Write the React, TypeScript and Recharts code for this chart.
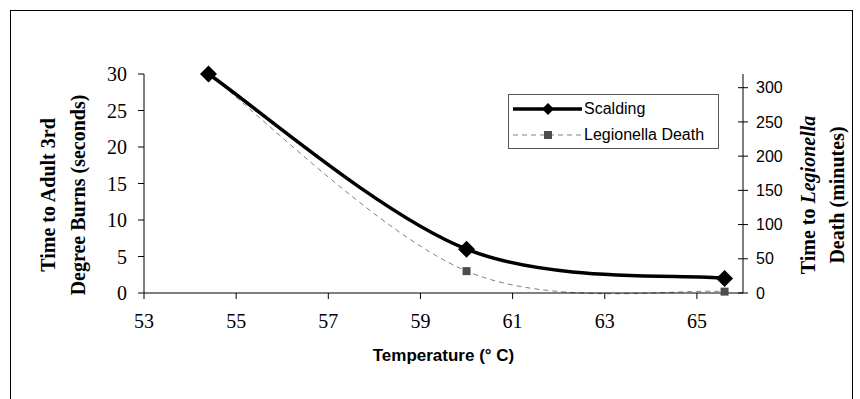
import React from "react";
import { LineChart, Line, XAxis, YAxis, Legend } from "recharts";

const temperatures = [54.4, 60, 65.6];
const scaldingSeconds = [30, 6, 2];
const legionellaMinutes = [320, 32, 2];
const xTicks = [53, 55, 57, 59, 61, 63, 65];
const leftTicks = [0, 5, 10, 15, 20, 25, 30];
const rightTicks = [0, 50, 100, 150, 200, 250, 300];
const seriesNames = ["Scalding", "Legionella Death"];

const data = temperatures.map((t, i) => ({
  temp: t,
  scalding: scaldingSeconds[i],
  legionella: legionellaMinutes[i],
}));

const SERIF = "'Liberation Serif', 'Times New Roman', serif";
const SANS = "'Liberation Sans', Arial, sans-serif";

// Excel-like smoothed line (cubic Bezier, tangent = (next - prev) / 6)
function excelCurve(context: any) {
  let pts: number[][] = [];
  return {
    areaStart() {},
    areaEnd() {},
    lineStart() {
      pts = [];
    },
    point(x: number, y: number) {
      pts.push([+x, +y]);
    },
    lineEnd() {
      const n = pts.length;
      if (n === 0) return;
      context.moveTo(pts[0][0], pts[0][1]);
      for (let i = 0; i < n - 1; i++) {
        const p0 = pts[Math.max(0, i - 1)];
        const p1 = pts[i];
        const p2 = pts[i + 1];
        const p3 = pts[Math.min(n - 1, i + 2)];
        const c1x = p1[0] + (p2[0] - p0[0]) / 6;
        const c1y = p1[1] + (p2[1] - p0[1]) / 6;
        const c2x = p2[0] - (p3[0] - p1[0]) / 6;
        const c2y = p2[1] - (p3[1] - p1[1]) / 6;
        context.bezierCurveTo(c1x, c1y, c2x, c2y, p2[0], p2[1]);
      }
    },
  };
}

const Diamond = (p: any) => {
  const { cx, cy, index } = p;
  if (cx == null || cy == null) return <g key={`dd-${index}`} />;
  const r = 8.5;
  return (
    <path
      key={`d-${index}`}
      d={`M${cx},${cy - r}L${cx + r},${cy}L${cx},${cy + r}L${cx - r},${cy}Z`}
      fill="#000"
    />
  );
};

const Square = (p: any) => {
  const { cx, cy, index } = p;
  if (cx == null || cy == null) return <g key={`ss-${index}`} />;
  const s = 4;
  return <rect key={`s-${index}`} x={cx - s} y={cy - s} width={2 * s} height={2 * s} fill="#4d4d4d" />;
};

const serifStyle = { fontFamily: SERIF, fontSize: 20 };
const sansStyle = { fontFamily: SANS, fontSize: 16 };

const XTick = (p: any) => {
  const { x, y, payload } = p;
  return (
    <text x={x} y={y} dy="0.71em" textAnchor="middle" style={serifStyle} fill="#000">
      {payload.value}
    </text>
  );
};

const LeftTick = (p: any) => {
  const { x, y, payload } = p;
  return (
    <text x={x} y={y} dy="0.35em" textAnchor="end" style={serifStyle} fill="#000">
      {payload.value}
    </text>
  );
};

const RightTick = (p: any) => {
  const { x, y, payload } = p;
  // x is text position: axis + tickSize(5) + margin(8)
  const ax = x - 13;
  return (
    <g>
      <line x1={ax - 5} x2={ax + 5} y1={y} y2={y} stroke="#000" strokeWidth={1} />
      <text x={x} y={y} dy="0.35em" textAnchor="start" style={sansStyle} fill="#000">
        {payload.value}
      </text>
    </g>
  );
};

const LegendBox = () => (
  <div
    style={{
      width: 209,
      height: 53,
      border: "1px solid #555",
      background: "#fff",
      fontFamily: SANS,
      fontSize: 16,
      color: "#000",
      boxSizing: "content-box",
    }}
  >
    <div style={{ display: "flex", alignItems: "center", height: 26, marginTop: 1 }}>
      <svg width={75} height={20} style={{ display: "block" }}>
        <line x1={4} x2={73} y1={10} y2={10} stroke="#000" strokeWidth={3.5} />
        <path d="M39,4L45,10L39,16L33,10Z" fill="#000" />
      </svg>
      <span>{seriesNames[0]}</span>
    </div>
    <div style={{ display: "flex", alignItems: "center", height: 26 }}>
      <svg width={75} height={20} style={{ display: "block" }}>
        <line x1={4} x2={73} y1={10} y2={10} stroke="#808080" strokeWidth={1} strokeDasharray="5 4" />
        <rect x={35} y={6} width={8} height={8} fill="#4d4d4d" />
      </svg>
      <span>{seriesNames[1]}</span>
    </div>
  </div>
);

export default function App() {
  return (
    <div style={{ position: "absolute", left: 0, top: 0, width: 860, height: 399, background: "#fff", overflow: "hidden" }}>
      <div
        style={{
          position: "absolute",
          left: 10,
          top: 10,
          width: 843,
          height: 420,
          border: "1.5px solid #000",
          boxSizing: "border-box",
        }}
      />
      <div style={{ position: "absolute", left: 0, top: 0 }}>
        <LineChart width={860} height={399} data={data} margin={{ top: 74, right: 0, bottom: 0, left: 0 }}>
          <XAxis
            dataKey="temp"
            type="number"
            domain={[53, 66]}
            ticks={xTicks}
            allowDataOverflow
            height={106}
            tickSize={6}
            tickMargin={15}
            stroke="#000"
            tick={<XTick />}
          />
          <YAxis
            yAxisId="left"
            orientation="left"
            domain={[0, 30]}
            ticks={leftTicks}
            width={144}
            tickSize={6}
            tickMargin={11}
            stroke="#000"
            tick={<LeftTick />}
          />
          <YAxis
            yAxisId="right"
            orientation="right"
            domain={[0, 320]}
            ticks={rightTicks}
            width={117}
            tickSize={5}
            tickMargin={8}
            tickLine={false}
            stroke="#000"
            tick={<RightTick />}
          />
          <Legend
            layout="vertical"
            align="center"
            verticalAlign="middle"
            content={() => <LegendBox />}
            wrapperStyle={{ position: "absolute", left: 508, top: 94, width: 212, height: 56 }}
          />
          <Line
            yAxisId="right"
            dataKey="legionella"
            name={seriesNames[1]}
            type={excelCurve as any}
            stroke="#808080"
            strokeWidth={1}
            strokeDasharray="5 4"
            dot={Square}
            isAnimationActive={false}
          />
          <Line
            yAxisId="left"
            dataKey="scalding"
            name={seriesNames[0]}
            type={excelCurve as any}
            stroke="#000"
            strokeWidth={3.5}
            dot={Diamond}
            isAnimationActive={false}
          />
        </LineChart>
      </div>
      <svg width={860} height={399} style={{ position: "absolute", left: 0, top: 0, pointerEvents: "none" }}>
        <g fontFamily={SERIF} fontWeight="bold" fontSize={20} fill="#000">
          <text x={48} y={195} textAnchor="middle" dominantBaseline="central" transform="rotate(-90 48 195)">
            Time to Adult 3rd
          </text>
          <text x={78} y={195} textAnchor="middle" dominantBaseline="central" transform="rotate(-90 78 195)">
            Degree Burns (seconds)
          </text>
          <text x={808} y={195} textAnchor="middle" dominantBaseline="central" transform="rotate(-90 808 195)">
            Time to <tspan fontStyle="italic">Legionella</tspan>
          </text>
          <text x={837} y={195} textAnchor="middle" dominantBaseline="central" transform="rotate(-90 837 195)">
            Death (minutes)
          </text>
        </g>
        <text x={443.5} y={355} textAnchor="middle" dominantBaseline="central" fontFamily={SANS} fontWeight="bold" fontSize={17} fill="#000">
          Temperature (° C)
        </text>
      </svg>
    </div>
  );
}
